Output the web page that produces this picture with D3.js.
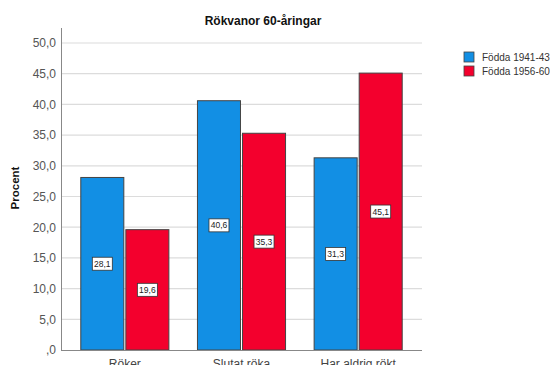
<!DOCTYPE html>
<html>
<head>
<meta charset="utf-8">
<script src="https://cdn.jsdelivr.net/npm/d3@7"></script>
<style>
  html, body { margin: 0; padding: 0; background: #fff; }
  svg { display: block; font-family: Arial, "Liberation Sans", sans-serif; }
</style>
</head>
<body>
<svg id="chart" width="550" height="365"></svg>
<script>
// Smoking habits among 60-year-olds, two birth cohorts
const categories = ["Röker", "Slutat röka", "Har aldrig rökt"];
const seriesNames = ["Födda 1941-43", "Födda 1956-60"];
const born1941 = [28.1, 40.6, 31.3];
const born1956 = [19.6, 35.3, 45.1];
const yTicks = [0, 5, 10, 15, 20, 25, 30, 35, 40, 45, 50];
const colors = ["#128fe4", "#f3002d"];

const series = [born1941, born1956];
const fmt = v => d3.format(".1f")(v).replace(".", ",").replace(/^0,/, ",");

const svg = d3.select("#chart");
const axisX = 61, plotRight = 422, plotTop = 28, plotBottom = 350;

const y = d3.scaleLinear().domain([0, 50]).range([plotBottom, 43]);
const x0 = d3.scaleBand().domain(categories).range([66.5, 416.5]).paddingInner(0.245).paddingOuter(0.1225);
const x1 = d3.scaleBand().domain(seriesNames).range([0, x0.bandwidth()]).paddingInner(0.045);

// gridlines
svg.append("g").selectAll("line").data(yTicks.filter(t => t > 0)).join("line")
  .attr("x1", axisX).attr("x2", plotRight)
  .attr("y1", d => y(d)).attr("y2", d => y(d))
  .attr("stroke", "#dcdcdc").attr("stroke-width", 1.2);

// y axis
const yAxis = d3.axisLeft(y).tickValues(yTicks).tickFormat(fmt).tickSize(0).tickPadding(5);
const gy = svg.append("g").attr("transform", `translate(${axisX},0)`).call(yAxis);
gy.select(".domain").remove();
gy.selectAll("text").attr("fill", "#555").attr("font-size", 12).attr("font-family", "Arial, 'Liberation Sans', sans-serif");
svg.append("line").attr("x1", axisX + 0.5).attr("x2", axisX + 0.5).attr("y1", plotTop).attr("y2", plotBottom)
  .attr("stroke", "#888").attr("stroke-width", 1);

// bars
const groups = svg.append("g").selectAll("g").data(categories).join("g")
  .attr("transform", d => `translate(${x0(d)},0)`);

groups.selectAll("rect").data((c, i) => series.map((s, j) => ({ name: seriesNames[j], v: s[i], j })))
  .join("rect")
  .attr("x", d => x1(d.name))
  .attr("width", x1.bandwidth())
  .attr("y", d => y(d.v))
  .attr("height", d => y(0) - y(d.v))
  .attr("fill", d => colors[d.j])
  .attr("stroke", "#444").attr("stroke-width", 1);

// value labels centred in each bar
const labels = groups.selectAll("g.lbl").data((c, i) => series.map((s, j) => ({ name: seriesNames[j], v: s[i], j })))
  .join("g").attr("class", "lbl")
  .attr("transform", d => `translate(${x1(d.name) + x1.bandwidth() / 2},${y(d.v / 2)})`);
labels.append("rect").attr("x", -10).attr("y", -6.5).attr("width", 20).attr("height", 13)
  .attr("fill", "#fff").attr("stroke", "#333").attr("stroke-width", 0.8);
labels.append("text").attr("text-anchor", "middle").attr("dy", "0.35em")
  .attr("font-size", 8.5).attr("fill", "#222").text(d => fmt(d.v));

// x axis baseline
svg.append("line").attr("x1", axisX).attr("x2", plotRight).attr("y1", plotBottom + 0.5).attr("y2", plotBottom + 0.5)
  .attr("stroke", "#888");

// category labels along the bottom edge
svg.append("g").selectAll("text").data(categories).join("text")
  .attr("x", d => x0(d) + x0.bandwidth() / 2).attr("y", 368)
  .attr("text-anchor", "middle").attr("font-size", 12).attr("fill", "#444")
  .text(d => d);

// title
svg.append("text").attr("x", 263).attr("y", 25).attr("text-anchor", "middle")
  .attr("font-size", 12).attr("font-weight", "bold").attr("fill", "#111")
  .text("Rökvanor 60-åringar");

// y axis title
svg.append("text").attr("transform", "translate(19,188) rotate(-90)").attr("text-anchor", "middle")
  .attr("font-size", 11.5).attr("font-weight", "bold").attr("fill", "#111")
  .text("Procent");

// legend
const legend = svg.append("g").selectAll("g").data(seriesNames).join("g")
  .attr("transform", (d, i) => `translate(464,${52 + i * 14})`);
legend.append("rect").attr("width", 10).attr("height", 10)
  .attr("fill", (d, i) => colors[i]).attr("stroke", "#444").attr("stroke-width", 0.8);
legend.append("text").attr("x", 18).attr("y", 5).attr("dy", "0.35em")
  .attr("font-size", 10).attr("fill", "#333").text(d => d);
</script>
</body>
</html>
